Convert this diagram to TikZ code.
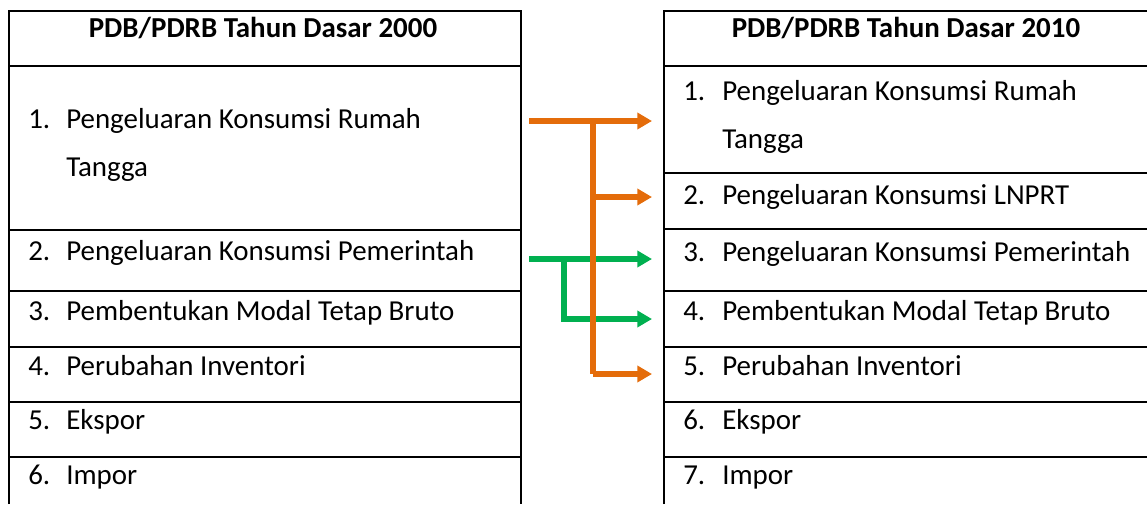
\documentclass[tikz,border=0pt]{standalone}
\usepackage{fontspec}
\setmainfont{Carlito}
\usetikzlibrary{arrows.meta}
\definecolor{flowor}{HTML}{E46C0A}
\definecolor{flowgr}{HTML}{00B050}
\tikzset{
  grid/.style={line width=1.6pt, black},
  head/.style={font=\fontsize{21.7}{26}\selectfont\bfseries, anchor=base, inner sep=0pt},
  num/.style={font=\fontsize{21.7}{26}\selectfont, anchor=base west, inner sep=0pt},
  item/.style={font=\fontsize{21.7}{26}\selectfont, anchor=base west, inner sep=0pt},
  flow/.style={line width=3.8pt, -{Triangle[length=11pt,width=12pt]}},
  flowline/.style={line width=3.8pt}
}
\begin{document}
\begin{tikzpicture}[x=0.75pt,y=-0.75pt]
\useasboundingbox (0,0) rectangle (1147,504);
\clip (0,0) rectangle (1147,504);

% left table: outline and row rules
\draw[grid] (9,504) -- (9,11) -- (521,11) -- (521,504);
\foreach \yy in {66,230,291,347,402,457} \draw[grid] (9,\yy) -- (521,\yy);

% right table: outline and row rules (runs off the right edge)
\draw[grid] (664,504) -- (664,11) -- (1150,11);
\foreach \yy in {66,173,229,291,347,402,457} \draw[grid] (664,\yy) -- (1150,\yy);

% headings
\node[head] (hl) at (263,37) {PDB/PDRB Tahun Dasar 2000};
\node[head] (hr) at (906,37) {PDB/PDRB Tahun Dasar 2010};

% left items
\node[num] (nl1) at (28,128) {1.};
\node[item] (l1) at (66,128) {Pengeluaran Konsumsi Rumah};
\node[item] (l1b) at (66,176) {Tangga};
\node[num] (nl2) at (28,260) {2.};
\node[item] (l2) at (66,260) {Pengeluaran Konsumsi Pemerintah};
\node[num] (nl3) at (28,320) {3.};
\node[item] (l3) at (66,320) {Pembentukan Modal Tetap Bruto};
\node[num] (nl4) at (28,375) {4.};
\node[item] (l4) at (66,375) {Perubahan Inventori};
\node[num] (nl5) at (28,429) {5.};
\node[item] (l5) at (66,429) {Ekspor};
\node[num] (nl6) at (28,484) {6.};
\node[item] (l6) at (66,484) {Impor};

% right items
\node[num] (nr1) at (683,100) {1.};
\node[item] (r1) at (722,100) {Pengeluaran Konsumsi Rumah};
\node[item] (r1b) at (722,148) {Tangga};
\node[num] (nr2) at (683,204) {2.};
\node[item] (r2) at (722,204) {Pengeluaran Konsumsi LNPRT};
\node[num] (nr3) at (683,261) {3.};
\node[item] (r3) at (722,261) {Pengeluaran Konsumsi Pemerintah};
\node[num] (nr4) at (683,320) {4.};
\node[item] (r4) at (722,320) {Pembentukan Modal Tetap Bruto};
\node[num] (nr5) at (683,375) {5.};
\node[item] (r5) at (722,375) {Perubahan Inventori};
\node[num] (nr6) at (683,429) {6.};
\node[item] (r6) at (722,429) {Ekspor};
\node[num] (nr7) at (683,484) {7.};
\node[item] (r7) at (722,484) {Impor};

% connector end points
\coordinate (os) at (529,121);
\coordinate (ob) at (593,121);
\coordinate (oe1) at (652,121);
\coordinate (oe2) at (652,197);
\coordinate (oe5) at (652,374);
\coordinate (gs) at (529,259);
\coordinate (gb) at (564,259);
\coordinate (ge3) at (652,259);
\coordinate (ge4) at (652,319);

% government consumption splits into consumption and investment
\draw[flow, flowgr] (gs) -- (ge3);
\draw[flow, flowgr] (gb) |- (ge4);

% household consumption splits into households, NPISH and inventories
\draw[flow, flowor] (os) -- (oe1);
\draw[flowline, flowor] (ob) -- (ob |- oe5);
\draw[flow, flowor] (ob |- oe2) -- (oe2);
\draw[flow, flowor] (ob |- oe5) -- (oe5);
\end{tikzpicture}
\end{document}
